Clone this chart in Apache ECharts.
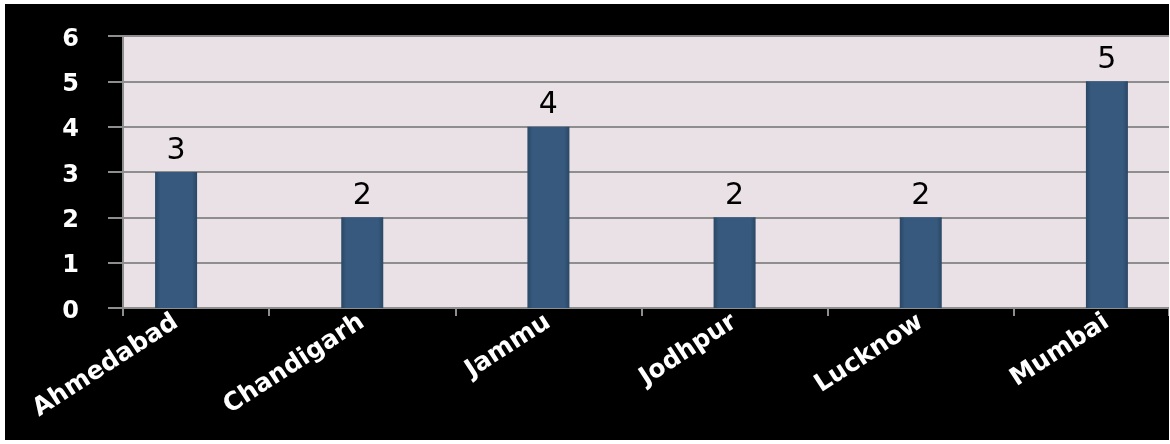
<!DOCTYPE html>
<html>
<head>
<meta charset="utf-8">
<script src="https://cdn.jsdelivr.net/npm/echarts@6/dist/echarts.min.js"></script>
<style>
  html, body { margin: 0; padding: 0; background: #ffffff; }
  #chart { position: absolute; left: 5px; top: 4px; width: 1164px; height: 436px; background: #000000; }
</style>
</head>
<body>
<div id="chart"></div>
<script>
const categories = ['Ahmedabad', 'Chandigarh', 'Jammu', 'Jodhpur', 'Lucknow', 'Mumbai'];
const values = [3, 2, 4, 2, 2, 5];
const yTicks = [0, 1, 2, 3, 4, 5, 6];

const chart = echarts.init(document.getElementById('chart'), null, { renderer: 'canvas' });
const gridTop = 32, gridHeight = 272;
const option = {
  backgroundColor: '#000000',
  animation: false,
  grid: [
    { left: 118, right: 0, top: gridTop, height: gridHeight, show: true, backgroundColor: '#e9e1e6', borderWidth: 0, outerBoundsMode: 'none' },
    { left: 78, width: 1117, top: gridTop, height: gridHeight, show: false, outerBoundsMode: 'none' }
  ],
  xAxis: [
    {
      gridIndex: 0, type: 'value', min: 0, max: 1, interval: 1,
      axisLine: { show: true, lineStyle: { color: '#8e8e8e', width: 2 } },
      axisTick: { show: true, length: 8, lineStyle: { color: '#8e8e8e', width: 2 } },
      axisLabel: { show: false }, splitLine: { show: false }
    },
    {
      gridIndex: 1, type: 'category', data: categories, boundaryGap: true,
      axisLine: { show: false },
      axisTick: { show: true, length: 8, interval: function (i) { return i !== 0; }, lineStyle: { color: '#8e8e8e', width: 2 } },
      axisLabel: { color: '#ffffff', fontFamily: 'DejaVu Sans', fontWeight: 'bold', fontSize: 25, rotate: 33, margin: 12, interval: 0 },
      splitLine: { show: false }
    }
  ],
  yAxis: [
    {
      gridIndex: 0, type: 'value', min: yTicks[0], max: yTicks[yTicks.length - 1], interval: 1,
      axisLine: { show: true, lineStyle: { color: '#8e8e8e', width: 2 } },
      axisTick: { show: true, length: 15, lineStyle: { color: '#8e8e8e', width: 2 } },
      axisLabel: {
        margin: 44,
        formatter: function (v) { return '{v|' + v + '}'; },
        rich: { v: { color: '#ffffff', fontFamily: 'DejaVu Sans', fontWeight: 'bold', fontSize: 24, padding: [7, 0, 0, 0] } }
      },
      splitLine: { show: true, lineStyle: { color: '#8e8e8e', width: 2 } }
    },
    {
      gridIndex: 1, type: 'value', min: yTicks[0], max: yTicks[yTicks.length - 1], interval: 1, show: false
    }
  ],
  series: [{
    type: 'bar', xAxisIndex: 1, yAxisIndex: 1,
    data: values,
    barWidth: 42,
    itemStyle: {
      color: new echarts.graphic.LinearGradient(0, 0, 1, 0, [
        { offset: 0, color: '#2a4765' },
        { offset: 0.12, color: '#36597d' },
        { offset: 0.88, color: '#36597d' },
        { offset: 1, color: '#2a4765' }
      ])
    },
    label: { show: true, position: 'top', distance: 6, color: '#000000', fontFamily: 'DejaVu Sans', fontSize: 30 }
  }]
};
chart.setOption(option);
</script>
</body>
</html>
